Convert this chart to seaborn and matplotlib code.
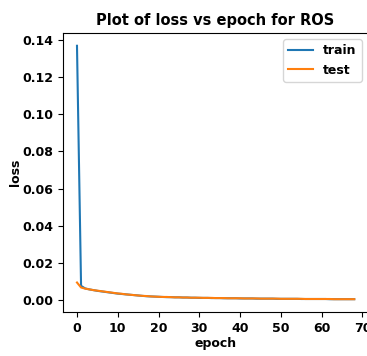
import matplotlib
matplotlib.use('Agg')
import matplotlib.pyplot as plt
import seaborn as sns
import pandas as pd

# loss values, one per epoch (0..68)
train_loss = [
    0.1370, 0.0075, 0.0061, 0.0056, 0.0052, 0.0048, 0.0045, 0.0042, 0.0039, 0.0036,
    0.0033, 0.0031, 0.0029, 0.0027, 0.0025, 0.0023, 0.0021, 0.0019, 0.0018, 0.0017,
    0.0016, 0.0015, 0.0014, 0.0014, 0.0013, 0.0013, 0.0012, 0.0012, 0.0011, 0.0011,
    0.0010, 0.0010, 0.0010, 0.0009, 0.0009, 0.0009, 0.0008, 0.0008, 0.0008, 0.0008,
    0.0007, 0.0007, 0.0007, 0.0007, 0.0006, 0.0006, 0.0006, 0.0006, 0.0006, 0.0005,
    0.0005, 0.0005, 0.0005, 0.0005, 0.0005, 0.0004, 0.0004, 0.0004, 0.0004, 0.0004,
    0.0004, 0.0004, 0.0003, 0.0003, 0.0003, 0.0003, 0.0003, 0.0003, 0.0003,
]
test_loss = [
    0.0093, 0.0066, 0.0060, 0.0056, 0.0052, 0.0049, 0.0046, 0.0043, 0.0040, 0.0037,
    0.0034, 0.0032, 0.0029, 0.0027, 0.0025, 0.0023, 0.0021, 0.0020, 0.0018, 0.0017,
    0.0016, 0.0015, 0.0015, 0.0014, 0.0013, 0.0013, 0.0012, 0.0012, 0.0011, 0.0011,
    0.0011, 0.0010, 0.0010, 0.0010, 0.0009, 0.0009, 0.0009, 0.0008, 0.0008, 0.0008,
    0.0008, 0.0007, 0.0007, 0.0007, 0.0007, 0.0006, 0.0006, 0.0006, 0.0006, 0.0006,
    0.0005, 0.0005, 0.0005, 0.0005, 0.0005, 0.0005, 0.0004, 0.0004, 0.0004, 0.0004,
    0.0004, 0.0004, 0.0004, 0.0003, 0.0003, 0.0003, 0.0003, 0.0003, 0.0003,
]
epochs = list(range(len(train_loss)))

plt.rcParams['font.weight'] = 'bold'
plt.rcParams['axes.labelweight'] = 'bold'
plt.rcParams['axes.titleweight'] = 'bold'
plt.rcParams['font.size'] = 9

df = pd.DataFrame({'epoch': epochs + epochs,
                   'loss': train_loss + test_loss,
                   'set': ['train'] * len(epochs) + ['test'] * len(epochs)})

fig = plt.figure(figsize=(3.67, 3.56), dpi=100)
ax = fig.add_axes([0.172, 0.124, 0.831, 0.783])
sns.lineplot(data=df, x='epoch', y='loss', hue='set',
             palette={'train': '#1f77b4', 'test': '#ff7f0e'}, linewidth=1.5, ax=ax)
ax.set_title('Plot of loss vs epoch for ROS', fontsize=10.5)
ax.set_xlabel('epoch', labelpad=2)
ax.set_ylabel('loss', labelpad=0)
ax.set_xticks([0, 10, 20, 30, 40, 50, 60, 70])
ax.set_xlim(-3.4, 71.4)
ax.legend(title=None, loc='upper right')

plt.savefig('out.png', dpi=100)
plt.close()
